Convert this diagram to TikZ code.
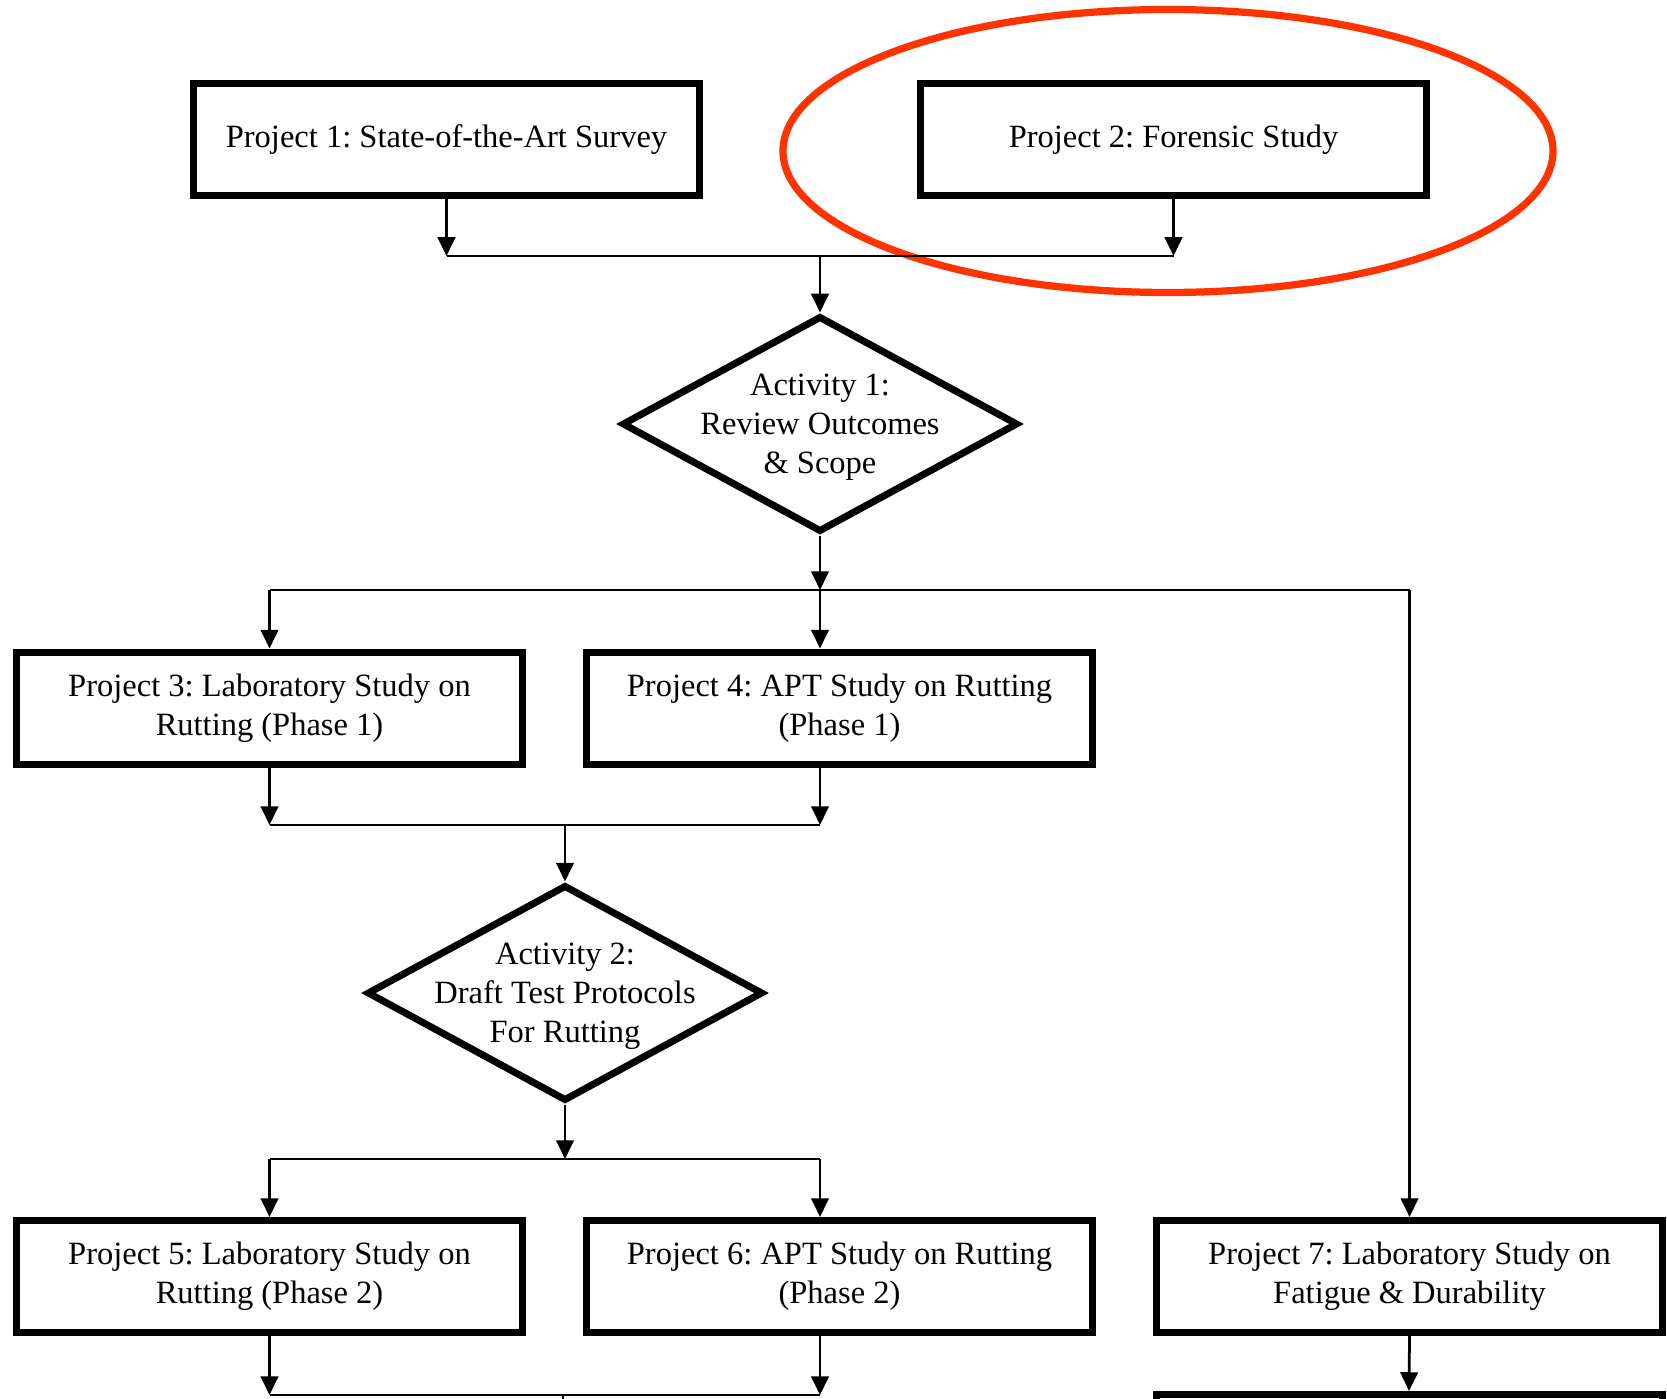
\documentclass[tikz,border=0pt]{standalone}
\usepackage{fontspec}
\setmainfont{Liberation Serif}
\usetikzlibrary{arrows.meta,positioning,shapes.geometric}
\definecolor{ringred}{RGB}{255,51,0}
\frenchspacing
\tikzset{
  >={Triangle[length=7.5pt,width=7pt]},
  font=\fontsize{13}{15.7}\selectfont,
  proj/.style ={draw, line width=2.8pt, minimum width=202.4pt, minimum height=44.8pt, align=center, inner sep=0pt},
  act/.style  ={draw, diamond, line width=2.8pt, minimum width=158.4pt, minimum height=86.4pt, inner sep=0pt},
  actlbl/.style={align=center, inner sep=0pt, yshift=-1.2pt},
  arr/.style  ={->, line width=1.1pt},
  link/.style ={line width=0.8pt},
  ring/.style ={draw=ringred, line width=2.9pt},
}

\begin{document}
\begin{tikzpicture}[x=0.4pt, y=-0.4pt, node distance=22.8pt and 85.6pt]
  \useasboundingbox (0,0) rectangle (1667,1399);

  \node[proj] (survey) at (446.5,139.5) {Project 1: State-of-the-Art Survey};
  \node[proj, right=of survey] (forensic) {Project 2: Forensic Study};
  \draw[ring] (1168,151) ellipse [x radius=385, y radius=141.5];

  \node[act, label={[actlbl]center:Activity 1:\\Review Outcomes\\\& Scope}] (review) at (820,424) {};

  \node[proj] (lab1) at (269.5,708) {Project 3: Laboratory Study on\\Rutting (Phase 1)};
  \node[proj, right=22.8pt of lab1] (apt1) {Project 4: APT Study on Rutting\\(Phase 1)};

  \node[act, label={[actlbl]center:Activity 2:\\Draft Test Protocols\\For Rutting}] (draft) at (565,993) {};

  \node[proj] (lab2) at (269.5,1276.5) {Project 5: Laboratory Study on\\Rutting (Phase 2)};
  \node[proj, right=22.8pt of lab2] (apt2) {Project 6: APT Study on Rutting\\(Phase 2)};
  \node[proj, right=22.8pt of apt2] (fatigue) {Project 7: Laboratory Study on\\Fatigue \& Durability};
  \node[proj, anchor=north] (next) at (1409,1391) {};

  % surveys into activity 1
  \coordinate (top) at (820,256);
  \draw[arr] (survey.south) -- (survey.south |- top);
  \draw[arr] (forensic.south) -- (forensic.south |- top);
  \draw[link] (survey.south |- top) -- (forensic.south |- top);
  \draw[arr] (top) -- (review.north);

  % activity 1 out to projects 3, 4 and 7
  \coordinate (mid) at (820,590);
  \draw[arr] (review.south) -- (mid);
  \draw[link] (lab1.north |- mid) -- (fatigue.north |- mid);
  \draw[arr] (lab1.north |- mid) -- (lab1.north);
  \draw[arr] (mid) -- (mid |- apt1.north);
  \draw[arr] (fatigue.north |- mid) -- (fatigue.north);

  % phase 1 into activity 2
  \coordinate (low) at (565,825);
  \draw[arr] (lab1.south) -- (lab1.south |- low);
  \draw[arr] (review |- apt1.south) -- (review |- low);
  \draw[link] (lab1.south |- low) -- (review |- low);
  \draw[arr] (low) -- (draft.north);

  % activity 2 out to phase 2
  \coordinate (low2) at (565,1159);
  \draw[arr] (draft.south) -- (low2);
  \draw[link] (lab1 |- low2) -- (review |- low2);
  \draw[arr] (lab1 |- low2) -- (lab2.north);
  \draw[arr] (review |- low2) -- (review |- apt2.north);

  % phase 2 onwards
  \coordinate (base) at (563,1395);
  \coordinate (below) at (563,1440);
  \draw[arr] (lab2.south) -- (lab2.south |- base);
  \draw[arr] (review |- apt2.south) -- (review |- base);
  \draw[link] (lab2.south |- base) -- (review |- base);
  \draw[link] (base) -- (below);
  \draw[arr] (fatigue.south) -- (next.north);
\end{tikzpicture}
\end{document}
